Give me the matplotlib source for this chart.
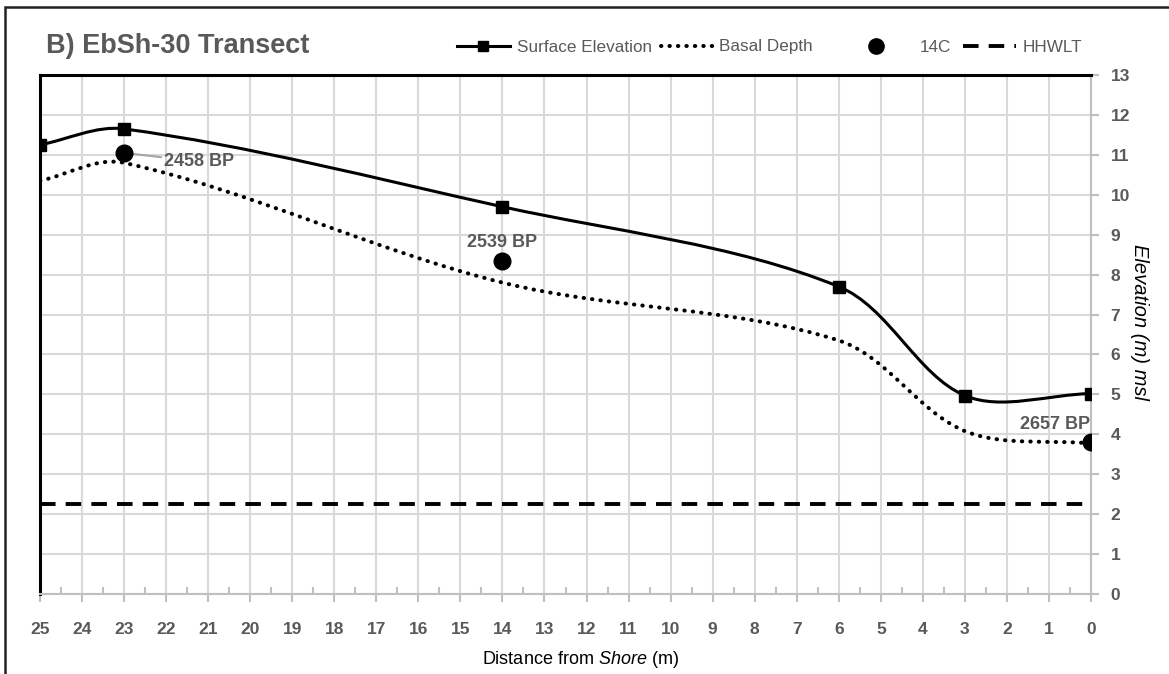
import numpy as np
import matplotlib
matplotlib.use('Agg')
import matplotlib.pyplot as plt
from matplotlib.path import Path
from matplotlib.patches import PathPatch, Rectangle
from matplotlib.lines import Line2D

plt.rcParams['font.family'] = ['Liberation Sans', 'DejaVu Sans']
plt.rcParams['mathtext.fontset'] = 'custom'
plt.rcParams['mathtext.rm'] = 'Liberation Sans'
plt.rcParams['mathtext.it'] = 'Liberation Sans:italic'

# transect data (distance from shore in m, elevation in m msl)
dist = [25, 23, 14, 6, 3, 0]
surface = [11.25, 11.65, 9.7, 7.7, 4.97, 5.02]
basal = [10.35, 10.8, 7.8, 6.35, 4.08, 3.77]
c14_dist = [23, 14, 0]
c14_elev = [11.05, 8.35, 3.8]
c14_labels = ['2458 BP', '2539 BP', '2657 BP']
hhwlt = 2.25

GRAY = '#595959'
XPX, YPX = 42.0, 40.0   # pixels per data unit, used to weight the spline tangents


def smooth_path(x, y):
    # smoothed line: cubic bezier segments, tangents weighted by segment length
    p = np.column_stack([x, y]).astype(float)
    pts = np.vstack([p[0], p, p[-1]])
    scale = np.array([XPX, YPX])

    def seglen(a, b):
        return np.hypot(*((b - a) * scale))

    verts = [p[0]]
    codes = [Path.MOVETO]
    for i in range(1, len(pts) - 2):
        p0, p1, p2, p3 = pts[i - 1], pts[i], pts[i + 1], pts[i + 2]
        d01, d12, d23 = seglen(p0, p1), seglen(p1, p2), seglen(p2, p3)
        f1 = d12 / (d01 + d12) / 3 if d01 > 0 else 1 / 3
        f2 = d12 / (d12 + d23) / 3 if d23 > 0 else 1 / 3
        c1 = p1 + (p2 - p0) * f1 if d01 > 0 else p1 + (p2 - p1) * f1
        c2 = p2 - (p3 - p1) * f2 if d23 > 0 else p2 - (p2 - p1) * f2
        verts += [c1, c2, p2]
        codes += [Path.CURVE4] * 3
    return Path(verts, codes)


fig = plt.figure(figsize=(11.69, 6.74), dpi=100)
ax = fig.add_axes([40 / 1169, 1 - 594 / 674, 1051 / 1169, 519 / 674])

DOTS = (0, (0.1, 2.0))
DASH = (0, (4, 2.6))

ax.add_patch(PathPatch(smooth_path(dist, surface), fill=False, color='black', lw=2.2, zorder=3))
ax.plot(dist, surface, ls='none', marker='s', ms=9, color='black', zorder=4)
ax.add_patch(PathPatch(smooth_path(dist, basal), fill=False, color='black', lw=2.9,
                       ls=DOTS, capstyle='round', zorder=3))
ax.plot(c14_dist, c14_elev, ls='none', marker='o', ms=12, color='black', zorder=5)
ax.axhline(hhwlt, color='black', lw=2.8, ls=DASH, zorder=3)

# radiocarbon date labels
lab_kw = dict(fontsize=13, fontweight='bold', color=GRAY)
ax.annotate(c14_labels[0], xy=(c14_dist[0], c14_elev[0]), xytext=(22.05, 10.83),
            ha='left', va='center',
            arrowprops=dict(arrowstyle='-', color='#a6a6a6', lw=1.5, shrinkA=0, shrinkB=2),
            **lab_kw)
ax.text(c14_dist[1], 8.8, c14_labels[1], ha='center', va='center', **lab_kw)
ax.text(0.85, 4.25, c14_labels[2], ha='center', va='center', **lab_kw)

ax.set_xlim(25, 0)
ax.set_ylim(0, 13)
ax.set_xticks(range(0, 26))
ax.set_xticks(np.arange(0.5, 25, 1), minor=True)
ax.set_yticks(range(0, 14))
ax.grid(True, which='major', color='#d9d9d9', lw=1.5, zorder=0)
ax.set_axisbelow(True)

ax.yaxis.tick_right()
ax.tick_params(axis='x', which='major', direction='out', length=6, width=1.5,
               color='#bfbfbf', pad=14, labelsize=12.5, labelcolor=GRAY)
ax.tick_params(axis='x', which='minor', direction='in', length=5, width=1.5, color='#bfbfbf')
ax.tick_params(axis='y', direction='out', length=6, width=1.5, color='#bfbfbf',
               pad=8, labelsize=12.5, labelcolor=GRAY)
for lab in ax.get_xticklabels() + ax.get_yticklabels():
    lab.set_fontweight('bold')

for side in ['right', 'bottom']:
    ax.spines[side].set_color('#bfbfbf')
    ax.spines[side].set_linewidth(1.5)
ax.spines['top'].set_linewidth(2.2)
ax.spines['left'].set_linewidth(2.2)

ax.set_xlabel('Distance from $\\it{Shore}$ (m)', fontsize=13, va='center')
ax.xaxis.set_label_coords(0.5147, -0.127)
ax.set_ylabel('Elevation (m) msl', fontsize=14.5, style='italic', rotation=270, va='center')
ax.yaxis.set_label_coords(1.0466, 0.524)

fig.text(46 / 1169, 1 - 46 / 674, 'B) EbSh-30 Transect', fontsize=19.5, fontweight='bold',
         color=GRAY, ha='left', va='center')

# legend entries, each placed along the top strip
entries = [
    (Line2D([], [], color='black', lw=2.2, marker='s', ms=7), 'Surface Elevation', 457, 0.4),
    (Line2D([], [], color='black', lw=2.9, ls=DOTS, dash_capstyle='round'), 'Basal Depth', 661, 0.3),
    (Line2D([], [], color='black', ls='none', marker='o', ms=11), '14C', 850, 1.0),
    (Line2D([], [], color='black', lw=2.8, ls=DASH), 'HHWLT', 963, 0.4),
]
for handle, label, x0, pad in entries:
    fig.legend([handle], [label], loc='center left', bbox_to_anchor=(x0 / 1169, 1 - 47 / 674),
               frameon=False, fontsize=12.3, handlelength=3.1, handletextpad=pad,
               borderpad=0, borderaxespad=0, labelcolor=GRAY)

# outer frame of the panel
fig.patches.append(Rectangle((5 / 1169, -0.1), 1.2, 1 - 7 / 674 + 0.1, transform=fig.transFigure,
                             fill=False, edgecolor='#222222', lw=1.8))

fig.savefig('out.png', dpi=100)
